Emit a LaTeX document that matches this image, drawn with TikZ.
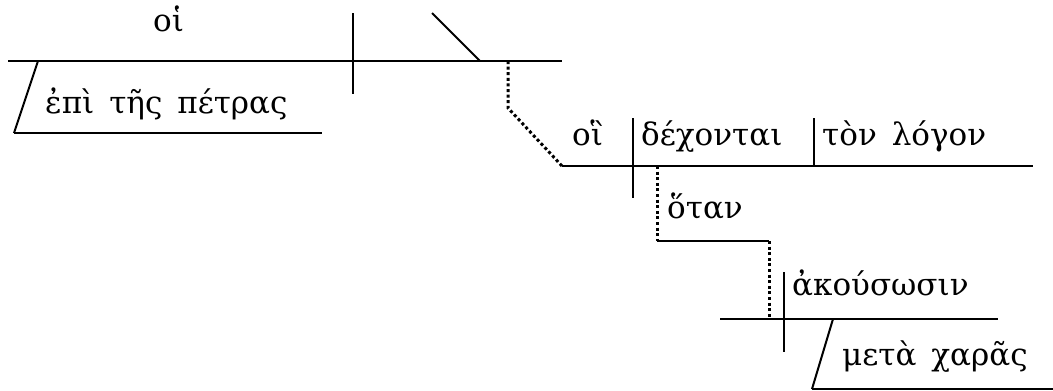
\documentclass[tikz,border=0pt]{standalone}
\usepackage{fontspec}
\setmainfont{DejaVu Serif}
\usetikzlibrary{positioning}
\newcommand\wordfont{\fontsize{31}{37}\selectfont\spaceskip=15pt\relax}
\tikzstyle{word}=[anchor=base west,inner sep=0pt,font=\wordfont]
\tikzstyle{rule}=[draw,line width=2pt]
\tikzstyle{dotrule}=[draw,line width=3pt,dash pattern=on 3pt off 2.6pt]

\begin{document}
\begin{tikzpicture}[x=1pt,y=-1pt]
    \useasboundingbox (0,0) rectangle (1053,391);
    % First the words of the diagram
    \foreach \pos/\name/\label in {{(153,31)/hoi/οἱ}, {(45,113)/epi/ἐπὶ τῆς πέτρας},
    {(572,145)/rel/οἳ}, {(641,145)/verb/δέχονται}, {(822,145)/obj/τὸν λόγον},
    {(667,218)/hotan/ὅταν}, {(792,295)/akous/ἀκούσωσιν}, {(842,365)/meta/μετὰ χαρᾶς}}
        \node[word] (\name) at \pos {\label};

    % Then the points the lines run between
    \foreach \pos/\name in {{(8,61)/mainL}, {(562,61)/mainR}, {(353,13)/divA}, {(353,94)/divAb},
    {(432,13)/pred}, {(480,61)/predb}, {(38,61)/slA}, {(14,133)/slAb}, {(322,133)/epiR},
    {(508,61)/linkTop}, {(508,108)/linkBend}, {(562,166)/relL}, {(1033,166)/relR},
    {(633,118)/divB}, {(633,198)/divBb}, {(814,118)/divC}, {(814,166)/divCb},
    {(657,166)/hotTop}, {(657,241)/hotBend}, {(769,241)/hotR}, {(769,317)/hotEnd},
    {(720,319)/akL}, {(998,319)/akR}, {(784,272)/divD}, {(784,352)/divDb},
    {(833,319)/slD}, {(812,389)/slDb}, {(1060,389)/metaR}}
        \path \pos coordinate (\name);

    % Base lines, dividers and slants
    \foreach \source/\dest in {mainL/mainR, divA/divAb, pred/predb, slA/slAb, slAb/epiR,
    relL/relR, divB/divBb, divC/divCb, hotBend/hotR, akL/akR, divD/divDb, slD/slDb, slDb/metaR}
        \path[rule] (\source) -- (\dest);

    % Dotted links between clauses
    \path[dotrule] (linkTop) -- (linkBend) -- (relL);
    \path[dotrule] (hotTop) -- (hotBend);
    \path[dotrule] (hotR) -- (hotEnd);
\end{tikzpicture}
\end{document}
